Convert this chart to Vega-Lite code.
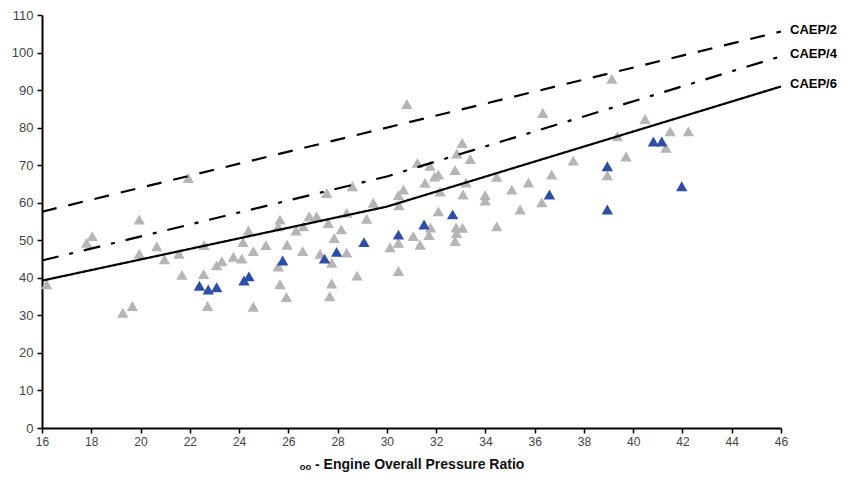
{
  "$schema": "https://vega.github.io/schema/vega-lite/v6.json",
  "width": 739,
  "height": 413,
  "autosize": "none",
  "padding": {"left": 42, "top": 15, "right": 73, "bottom": 55},
  "background": "white",
  "config": {"view": {"stroke": null}, "font": "Liberation Sans", "axisY": {"labelOverlap": false}, "axis": {"labelOverlap": false}},
  "datasets": {
    "points": [
      {"opr": 16.19, "dp": 38.3, "type": "other"},
      {"opr": 17.81, "dp": 49.3, "type": "other"},
      {"opr": 18.04, "dp": 51.1, "type": "other"},
      {"opr": 19.28, "dp": 30.7, "type": "other"},
      {"opr": 19.67, "dp": 32.5, "type": "other"},
      {"opr": 19.95, "dp": 55.5, "type": "other"},
      {"opr": 19.95, "dp": 46.4, "type": "other"},
      {"opr": 20.66, "dp": 48.4, "type": "other"},
      {"opr": 20.97, "dp": 44.9, "type": "other"},
      {"opr": 21.56, "dp": 46.4, "type": "other"},
      {"opr": 21.68, "dp": 40.8, "type": "other"},
      {"opr": 21.94, "dp": 66.6, "type": "other"},
      {"opr": 22.58, "dp": 48.7, "type": "other"},
      {"opr": 22.56, "dp": 41.0, "type": "other"},
      {"opr": 22.72, "dp": 32.5, "type": "other"},
      {"opr": 23.09, "dp": 43.3, "type": "other"},
      {"opr": 23.30, "dp": 44.4, "type": "other"},
      {"opr": 23.77, "dp": 45.6, "type": "other"},
      {"opr": 24.11, "dp": 45.1, "type": "other"},
      {"opr": 24.16, "dp": 49.5, "type": "other"},
      {"opr": 24.38, "dp": 52.6, "type": "other"},
      {"opr": 24.58, "dp": 47.1, "type": "other"},
      {"opr": 24.58, "dp": 32.3, "type": "other"},
      {"opr": 25.09, "dp": 48.7, "type": "other"},
      {"opr": 25.66, "dp": 55.5, "type": "other"},
      {"opr": 25.59, "dp": 53.7, "type": "other"},
      {"opr": 25.59, "dp": 43.0, "type": "other"},
      {"opr": 25.66, "dp": 38.3, "type": "other"},
      {"opr": 25.95, "dp": 48.8, "type": "other"},
      {"opr": 25.92, "dp": 34.9, "type": "other"},
      {"opr": 26.31, "dp": 52.6, "type": "other"},
      {"opr": 26.58, "dp": 47.1, "type": "other"},
      {"opr": 26.61, "dp": 53.7, "type": "other"},
      {"opr": 26.85, "dp": 56.4, "type": "other"},
      {"opr": 27.15, "dp": 56.4, "type": "other"},
      {"opr": 27.29, "dp": 46.4, "type": "other"},
      {"opr": 27.62, "dp": 54.6, "type": "other"},
      {"opr": 27.56, "dp": 62.6, "type": "other"},
      {"opr": 27.76, "dp": 44.0, "type": "other"},
      {"opr": 27.76, "dp": 38.5, "type": "other"},
      {"opr": 27.68, "dp": 35.1, "type": "other"},
      {"opr": 27.86, "dp": 50.6, "type": "other"},
      {"opr": 28.15, "dp": 52.9, "type": "other"},
      {"opr": 28.37, "dp": 46.7, "type": "other"},
      {"opr": 28.37, "dp": 57.3, "type": "other"},
      {"opr": 28.60, "dp": 64.4, "type": "other"},
      {"opr": 28.79, "dp": 40.6, "type": "other"},
      {"opr": 29.18, "dp": 55.7, "type": "other"},
      {"opr": 29.45, "dp": 60.0, "type": "other"},
      {"opr": 30.13, "dp": 48.1, "type": "other"},
      {"opr": 30.47, "dp": 41.8, "type": "other"},
      {"opr": 30.47, "dp": 49.3, "type": "other"},
      {"opr": 30.49, "dp": 59.3, "type": "other"},
      {"opr": 30.47, "dp": 62.0, "type": "other"},
      {"opr": 30.67, "dp": 63.5, "type": "other"},
      {"opr": 30.81, "dp": 86.3, "type": "other"},
      {"opr": 31.07, "dp": 51.1, "type": "other"},
      {"opr": 31.35, "dp": 48.8, "type": "other"},
      {"opr": 31.55, "dp": 65.3, "type": "other"},
      {"opr": 31.24, "dp": 70.6, "type": "other"},
      {"opr": 31.75, "dp": 69.8, "type": "other"},
      {"opr": 31.77, "dp": 53.4, "type": "other"},
      {"opr": 31.71, "dp": 51.4, "type": "other"},
      {"opr": 31.94, "dp": 67.0, "type": "other"},
      {"opr": 32.09, "dp": 67.5, "type": "other"},
      {"opr": 32.09, "dp": 57.7, "type": "other"},
      {"opr": 32.16, "dp": 63.0, "type": "other"},
      {"opr": 32.77, "dp": 68.7, "type": "other"},
      {"opr": 32.84, "dp": 73.1, "type": "other"},
      {"opr": 33.06, "dp": 75.9, "type": "other"},
      {"opr": 33.39, "dp": 71.6, "type": "other"},
      {"opr": 32.81, "dp": 53.4, "type": "other"},
      {"opr": 33.07, "dp": 53.3, "type": "other"},
      {"opr": 32.83, "dp": 51.9, "type": "other"},
      {"opr": 32.77, "dp": 49.8, "type": "other"},
      {"opr": 33.21, "dp": 65.4, "type": "other"},
      {"opr": 33.09, "dp": 62.2, "type": "other"},
      {"opr": 33.99, "dp": 62.0, "type": "other"},
      {"opr": 33.99, "dp": 60.6, "type": "other"},
      {"opr": 34.46, "dp": 66.9, "type": "other"},
      {"opr": 34.46, "dp": 53.7, "type": "other"},
      {"opr": 35.07, "dp": 63.5, "type": "other"},
      {"opr": 35.41, "dp": 58.2, "type": "other"},
      {"opr": 35.75, "dp": 65.4, "type": "other"},
      {"opr": 36.33, "dp": 83.9, "type": "other"},
      {"opr": 36.69, "dp": 67.5, "type": "other"},
      {"opr": 36.29, "dp": 60.1, "type": "other"},
      {"opr": 37.57, "dp": 71.2, "type": "other"},
      {"opr": 38.95, "dp": 67.3, "type": "other"},
      {"opr": 39.13, "dp": 93.0, "type": "other"},
      {"opr": 39.36, "dp": 77.7, "type": "other"},
      {"opr": 39.71, "dp": 72.3, "type": "other"},
      {"opr": 40.48, "dp": 82.3, "type": "other"},
      {"opr": 41.33, "dp": 74.6, "type": "other"},
      {"opr": 41.50, "dp": 79.0, "type": "other"},
      {"opr": 42.24, "dp": 79.0, "type": "other"},
      {"opr": 22.39, "dp": 37.9, "type": "highlight"},
      {"opr": 22.75, "dp": 36.9, "type": "highlight"},
      {"opr": 23.09, "dp": 37.5, "type": "highlight"},
      {"opr": 24.20, "dp": 39.3, "type": "highlight"},
      {"opr": 24.40, "dp": 40.4, "type": "highlight"},
      {"opr": 25.77, "dp": 44.6, "type": "highlight"},
      {"opr": 27.47, "dp": 45.1, "type": "highlight"},
      {"opr": 27.96, "dp": 46.9, "type": "highlight"},
      {"opr": 29.07, "dp": 49.5, "type": "highlight"},
      {"opr": 30.47, "dp": 51.5, "type": "highlight"},
      {"opr": 31.51, "dp": 54.2, "type": "highlight"},
      {"opr": 32.67, "dp": 56.9, "type": "highlight"},
      {"opr": 36.60, "dp": 62.2, "type": "highlight"},
      {"opr": 38.95, "dp": 69.7, "type": "highlight"},
      {"opr": 38.95, "dp": 58.2, "type": "highlight"},
      {"opr": 40.82, "dp": 76.3, "type": "highlight"},
      {"opr": 41.16, "dp": 76.3, "type": "highlight"},
      {"opr": 41.97, "dp": 64.4, "type": "highlight"}
    ],
    "standards": [
      {"std": "CAEP/2", "opr": 16, "dp": 57.6},
      {"std": "CAEP/2", "opr": 46, "dp": 105.6},
      {"std": "CAEP/4", "opr": 16, "dp": 44.6},
      {"std": "CAEP/4", "opr": 30, "dp": 67.0},
      {"std": "CAEP/4", "opr": 46, "dp": 99.0},
      {"std": "CAEP/6", "opr": 16, "dp": 39.25},
      {"std": "CAEP/6", "opr": 30, "dp": 58.96},
      {"std": "CAEP/6", "opr": 46, "dp": 90.96}
    ]
  },
  "encoding": {
    "x": {
      "field": "opr", "type": "quantitative",
      "scale": {"domain": [16, 46], "nice": false, "zero": false},
      "axis": {
        "values": [16, 18, 20, 22, 24, 26, 28, 30, 32, 34, 36, 38, 40, 42, 44, 46],
        "title": "ₒₒ - Engine Overall Pressure Ratio",
        "titleFont": "Liberation Sans", "titleFontSize": 14, "titleFontWeight": "bold", "titleColor": "#111",
        "titlePadding": 10,
        "labelFont": "Liberation Sans", "labelFontSize": 12, "labelColor": "#444", "labelPadding": 3,
        "domainColor": "#000", "domainWidth": 2, "tickColor": "#000", "tickWidth": 1.5, "tickSize": 5,
        "grid": false, "labelFlush": false
      }
    },
    "y": {
      "field": "dp", "type": "quantitative",
      "scale": {"domain": [0, 110], "nice": false, "zero": true},
      "axis": {
        "values": [0, 10, 20, 30, 40, 50, 60, 70, 80, 90, 100, 110],
        "title": null,
        "labelFont": "Liberation Sans", "labelFontSize": 13, "labelColor": "#444", "labelPadding": 4,
        "labelFlush": false, "labelSeparation": 0,
        "domainColor": "#000", "domainWidth": 2, "tickColor": "#000", "tickWidth": 1.5, "tickSize": 5,
        "grid": false
      }
    }
  },
  "layer": [
    {
      "data": {"name": "points"},
      "mark": {"type": "point", "shape": "triangle-up", "filled": true, "opacity": 1, "size": 130},
      "encoding": {
        "color": {
          "field": "type", "type": "nominal",
          "scale": {"domain": ["other", "highlight"], "range": ["#b5b5b5", "#2c4ea8"]},
          "legend": null
        }
      }
    },
    {
      "data": {"name": "standards"},
      "mark": {"type": "line", "color": "#000", "strokeWidth": 2.2},
      "encoding": {
        "detail": {"field": "std"},
        "strokeDash": {
          "field": "std", "type": "nominal",
          "scale": {"domain": ["CAEP/2", "CAEP/4", "CAEP/6"], "range": [[15, 12], [17, 11, 4, 11], [1, 0]]},
          "legend": null
        }
      }
    },
    {
      "data": {"name": "standards"},
      "transform": [{"filter": "datum.opr == 46"}],
      "mark": {"type": "text", "align": "left", "baseline": "middle", "dx": 9, "dy": -2, "font": "Liberation Sans", "fontSize": 13, "fontWeight": "bold", "color": "#000"},
      "encoding": {
        "text": {"field": "std"}
      }
    }
  ]
}
